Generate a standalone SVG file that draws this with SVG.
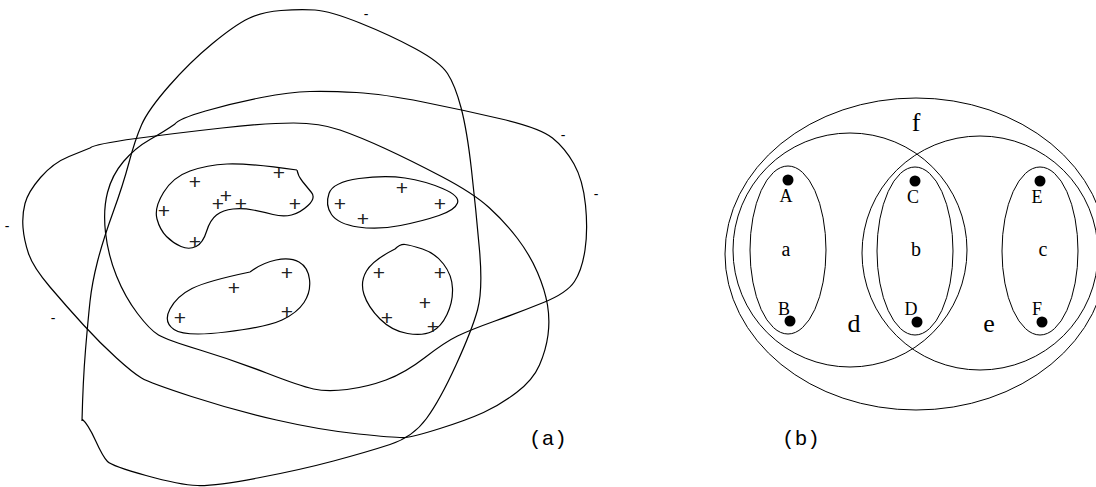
<svg xmlns="http://www.w3.org/2000/svg" width="1096" height="487" viewBox="0 0 1096 487">
<style>
.c{fill:none;stroke:#000;stroke-width:1.2;stroke-linejoin:round}
.e{fill:none;stroke:#000;stroke-width:1}
.p{font-family:"Liberation Sans",Arial,sans-serif;font-size:21px;fill:#222;text-anchor:middle}
.m{font-family:"Liberation Sans",Arial,sans-serif;font-size:14px;fill:#000;text-anchor:middle}
.cap{font-family:"Liberation Mono","Courier New",monospace;font-size:21px;fill:#000;text-anchor:middle}
.t{font-family:"Liberation Serif","Times New Roman",serif;fill:#000;text-anchor:middle}
</style>
<rect width="1096" height="487" fill="#fff"/>
<g id="diagram-a">
<g id="region-1"><path class="c" d="M82,421 Q83,380 85.5,350 Q88,320 90,301.5 Q92,283 97.5,261.5 Q103,240 113,212.5 Q123,185 129,162.5 Q135,140 141.5,125 Q148,110 169,86 Q190,62 212.5,43.5 Q235,25 248.5,18.5 Q262,12 281,10.5 Q300,9 315,10 Q330,11 360,23 Q390,35 415,48.5 Q440,62 447.5,73.5 Q455,85 461,107.5 Q467,130 471.5,170 Q476,210 479.5,250 Q483,290 477.5,310 Q472,330 456,365 Q440,400 426.5,418.5 Q413,437 390,444.5 Q367,452 333.5,461 Q300,470 257.5,478 Q215,486 197.5,485.5 Q180,485 146,475.5 Q112,466 107.5,461.5 Q103,457 95.5,440.5 Q88,424 82,419"/></g>
<g id="region-2"><path class="c" d="M175,124 Q178,119 205.5,111 Q233,103 261.5,97.5 Q290,92 310,91.5 Q330,91 356.5,92.5 Q383,94 423,102 Q463,110 501.5,119 Q540,128 552.5,138 Q565,148 574,164 Q583,180 585.5,205 Q588,230 585,250 Q582,270 574.5,281.5 Q567,293 543.5,302.5 Q520,312 495,321 Q470,330 457.5,336 Q445,342 425,357.5 Q405,373 386,380 Q367,387 347,389.5 Q327,392 313.5,389 Q300,386 266.5,373 Q233,360 200,350 Q167,340 158.5,335 Q150,330 137.5,313.5 Q125,297 116.5,276 Q108,255 105.5,232.5 Q103,210 107.5,192.5 Q112,175 123.5,161.5 Q135,148 150,139.5 Q165,131 175,124"/></g>
<g id="region-3"><path class="c" d="M90,148 Q95,144 136,138.5 Q177,133 222,128 Q267,123 293.5,123 Q320,123 340,130 Q360,137 385,148.5 Q410,160 441.5,176.5 Q473,193 489,207.5 Q505,222 517.5,238.5 Q530,255 537.5,272.5 Q545,290 547.5,305 Q550,320 548,335 Q546,350 539.5,365 Q533,380 516.5,392.5 Q500,405 483.5,412.5 Q467,420 440,428.5 Q413,437 405,437.5 Q397,438 358.5,434 Q320,430 276.5,420 Q233,410 191.5,396.5 Q150,383 141.5,378 Q133,373 116.5,358 Q100,343 83.5,325 Q67,307 50,287 Q33,267 28.5,253.5 Q24,240 23,227.5 Q22,215 25,203.5 Q28,192 40.5,177.5 Q53,163 69,156.5 Q85,150 90,148"/></g>
<g id="cluster-1"><path class="c" d="M297,170 Q298,176 302.5,181.5 Q307,187 311.5,192.5 Q316,198 308,205.5 Q300,213 291.5,215 Q283,217 273,214.5 Q263,212 253,210 Q243,208 233,209 Q223,210 216.5,215 Q210,220 206.5,231.5 Q203,243 196,246.5 Q189,250 181,246.5 Q173,243 166.5,236.5 Q160,230 157,219 Q154,208 163.5,192.5 Q173,177 190,171 Q207,165 227,164 Q247,163 297,170"/>
<text class="p" x="195" y="189.4">+</text><text class="p" x="279" y="180.4">+</text><text class="p" x="226" y="203.4">+</text><text class="p" x="218" y="211.4">+</text><text class="p" x="241" y="211.4">+</text><text class="p" x="295" y="211.4">+</text><text class="p" x="164" y="218.4">+</text><text class="p" x="195" y="249.4">+</text></g>
<g id="cluster-2"><path class="c" d="M331.5,214.5 Q325,205 329,193.5 Q333,182 359,178.5 Q385,175 405,178 Q425,181 442.5,188.5 Q460,196 457.5,203 Q455,210 439,215.5 Q423,221 400.5,225.5 Q378,230 358,227 Q338,224 331.5,214.5 Z"/>
<text class="p" x="402" y="195.4">+</text><text class="p" x="340" y="211.4">+</text><text class="p" x="440" y="211.4">+</text><text class="p" x="363" y="226.4">+</text></g>
<g id="cluster-3"><path class="c" d="M250,272 Q262,263 276,260 Q290,257 299,262 Q308,267 309.5,279.5 Q311,292 304,302.5 Q297,313 282,320 Q267,327 226,332 Q185,337 174,329.5 Q163,322 170,309 Q177,296 192,288.5 Q207,281 250,272"/>
<text class="p" x="287" y="280.4">+</text><text class="p" x="234" y="295.4">+</text><text class="p" x="287" y="319.4">+</text><text class="p" x="180" y="325.4">+</text></g>
<g id="cluster-4"><path class="c" d="M395,249 Q400,244 405,244.5 Q410,245 422.5,249 Q435,253 443.5,264 Q452,275 452.5,288.5 Q453,302 447,314.5 Q441,327 432,331.5 Q423,336 407.5,333.5 Q392,331 380,319 Q368,307 364,294.5 Q360,282 366.5,271 Q373,260 395,249"/>
<text class="p" x="379" y="280.4">+</text><text class="p" x="440" y="280.4">+</text><text class="p" x="425" y="310.4">+</text><text class="p" x="387" y="325.4">+</text><text class="p" x="433" y="334.4">+</text></g>
<g id="negatives"><text class="m" x="366" y="19">-</text><text class="m" x="563" y="140">-</text><text class="m" x="596" y="199">-</text><text class="m" x="7" y="231">-</text><text class="m" x="53" y="323">-</text></g>
<text class="cap" x="548" y="445">(a)</text>
</g>
<g id="diagram-b">
<g id="set-f"><ellipse class="e" cx="916" cy="254" rx="191" ry="156"/><text class="t" x="916" y="131" font-size="26">f</text></g>
<g id="set-d"><circle class="e" cx="850" cy="250" r="117"/><text class="t" x="854" y="332" font-size="26">d</text></g>
<g id="set-e"><ellipse class="e" cx="980" cy="253" rx="118" ry="117"/><text class="t" x="989" y="332" font-size="26">e</text></g>
<g id="set-a"><ellipse class="e" cx="788" cy="250" rx="38" ry="84"/><text class="t" x="786" y="256" font-size="20">a</text></g>
<g id="set-b"><ellipse class="e" cx="915" cy="251" rx="38" ry="84"/><text class="t" x="916" y="256" font-size="20">b</text></g>
<g id="set-c"><ellipse class="e" cx="1040" cy="251" rx="38" ry="84"/><text class="t" x="1043" y="256" font-size="20">c</text></g>
<g id="point-A"><circle cx="788" cy="180" r="5.5"/><text class="t" x="786" y="202" font-size="18">A</text></g>
<g id="point-B"><circle cx="790" cy="321" r="5.5"/><text class="t" x="784" y="315" font-size="18">B</text></g>
<g id="point-C"><circle cx="915" cy="181" r="5.5"/><text class="t" x="913" y="203" font-size="18">C</text></g>
<g id="point-D"><circle cx="917" cy="322" r="5.5"/><text class="t" x="911" y="315" font-size="18">D</text></g>
<g id="point-E"><circle cx="1040" cy="181" r="5.5"/><text class="t" x="1037" y="203" font-size="18">E</text></g>
<g id="point-F"><circle cx="1042" cy="322" r="5.5"/><text class="t" x="1037" y="315" font-size="18">F</text></g>
<text class="cap" x="801" y="445">(b)</text>
</g>
</svg>
